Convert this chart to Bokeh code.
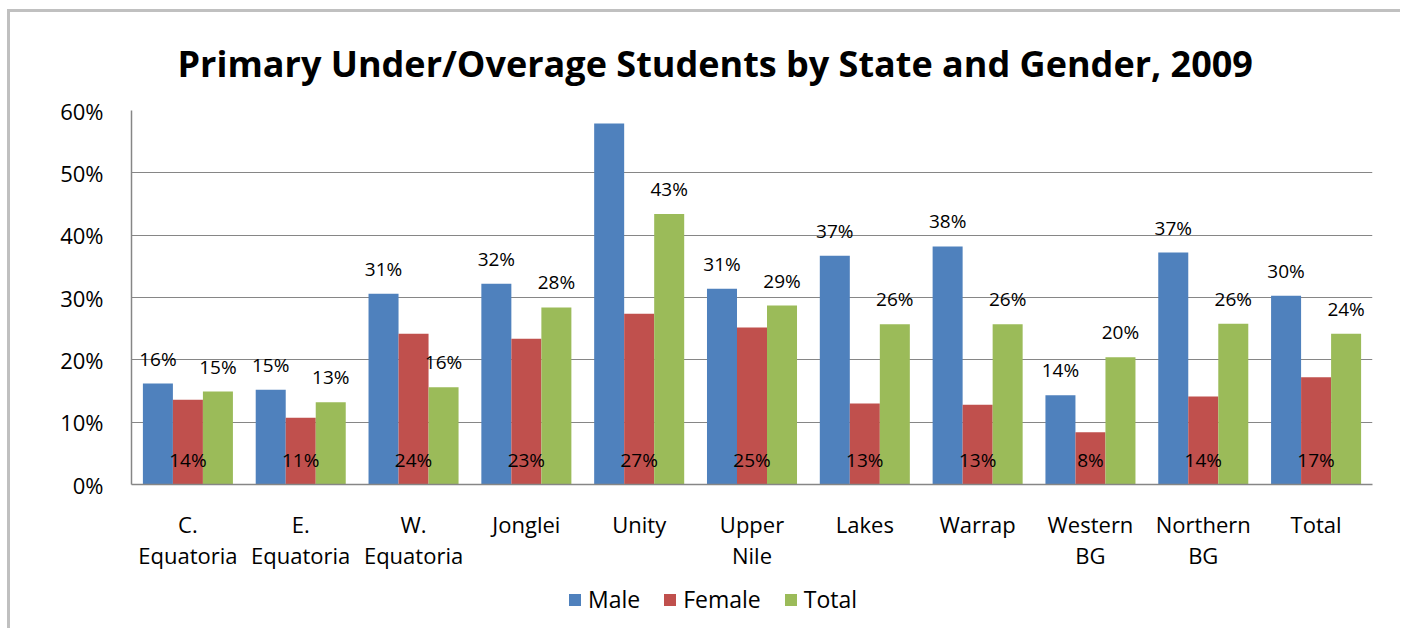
from bokeh.plotting import figure
from bokeh.layouts import column
from bokeh.models import (ColumnDataSource, FactorRange, NumeralTickFormatter,
                          FixedTicker, Legend, LegendItem)
from bokeh.transform import dodge
from bokeh.core.properties import value
from bokeh.embed import file_html
from bokeh.resources import INLINE

states = ["C.\nEquatoria", "E.\nEquatoria", "W.\nEquatoria", "Jonglei", "Unity",
          "Upper\nNile", "Lakes", "Warrap", "Western\nBG", "Northern\nBG", "Total"]
male = [0.162, 0.152, 0.306, 0.322, 0.579, 0.314, 0.367, 0.382, 0.143, 0.372, 0.303]
female = [0.136, 0.107, 0.242, 0.234, 0.274, 0.252, 0.130, 0.128, 0.084, 0.141, 0.172]
total = [0.149, 0.132, 0.156, 0.284, 0.434, 0.287, 0.257, 0.257, 0.204, 0.258, 0.242]
series_names = ["Male", "Female", "Total"]
colors = ["#4F81BD", "#C0504D", "#9BBB59"]
y_ticks = [0, 0.1, 0.2, 0.3, 0.4, 0.5, 0.6]

FONT = "Open Sans"

def fmt(vals):
    return [f"{v * 100:.0f}%" for v in vals]

src = ColumnDataSource(data=dict(
    state=states, male=male, female=female, total=total,
    male_lbl=fmt(male), female_lbl=fmt(female), total_lbl=fmt(total),
    female_lbl_y=[0.04] * len(states),
))

W = 1390
p = figure(x_range=FactorRange(*states), y_range=(0, 0.6),
           width=W, height=566, output_backend="svg", toolbar_location=None,
           min_border_left=121, min_border_right=28, min_border_top=98,
           min_border_bottom=94)
p.x_range.range_padding = 0

p.title.text = "Primary Under/Overage Students by State and Gender, 2009"
p.title.text_font = FONT
p.title.text_font_size = "36px"
p.title.text_font_style = "bold"
p.title.align = "left"
p.title.offset = 46
p.title.vertical_align = "top"
p.title.standoff = 42
p.title.text_color = "#000000"

bw = 0.266
offs = [-bw, 0.0, bw]
cols = ["male", "female", "total"]
for col, off, c in zip(cols, offs, colors):
    p.vbar(x=dodge("state", off, range=p.x_range), top=col, width=bw,
           source=src, fill_color=c, line_color=None)

# data labels
for col, off in [("male", -bw), ("total", bw)]:
    p.text(x=dodge("state", off, range=p.x_range), y=col, text=col + "_lbl",
           source=src, text_align="center", text_baseline="middle",
           y_offset=-25, text_font=value(FONT), text_font_size="19px",
           text_color="#000000")
p.text(x=dodge("state", 0.0, range=p.x_range), y="female_lbl_y", text="female_lbl",
       source=src, text_align="center", text_baseline="middle",
       text_font=value(FONT), text_font_size="19px", text_color="#000000")

# axes
p.yaxis.ticker = FixedTicker(ticks=y_ticks)
p.yaxis.formatter = NumeralTickFormatter(format="0%")
p.yaxis.major_label_text_font = FONT
p.yaxis.major_label_text_font_size = "22px"
p.yaxis.major_label_text_color = "#000000"
p.yaxis.major_tick_line_color = None
p.yaxis.minor_tick_line_color = None
p.yaxis.axis_line_color = "#868686"
p.yaxis.axis_line_width = 1.5
p.yaxis.major_label_standoff = 22

p.xaxis.major_label_text_font = FONT
p.xaxis.major_label_text_font_size = "22px"
p.xaxis.major_label_text_line_height = 1.05
p.xaxis.major_label_text_color = "#000000"
p.xaxis.major_tick_line_color = None
p.xaxis.axis_line_color = "#868686"
p.xaxis.axis_line_width = 1.5
p.xaxis.major_label_standoff = 18

p.xgrid.grid_line_color = None
p.ygrid.grid_line_color = "#868686"
p.ygrid.grid_line_width = 1
p.outline_line_color = None

# legend strip (its own small figure so that the legend is not clipped)
LH = 50
lf = figure(x_range=FactorRange(*states), y_range=(10, 11), width=W, height=LH,
            output_backend="svg", toolbar_location=None, min_border=0)
lf.axis.visible = False
lf.grid.grid_line_color = None
lf.outline_line_color = None
leg_renderers = []
for col, off, c in zip(cols, offs, colors):
    leg_renderers.append(lf.vbar(x=dodge("state", off, range=lf.x_range), top=col,
                                 width=bw, source=src, fill_color=c, line_color=None))
legend = Legend(items=[LegendItem(label=n, renderers=[r])
                       for n, r in zip(series_names, leg_renderers)],
                orientation="horizontal", location=(436, 13),
                label_text_font=FONT, label_text_font_size="23px",
                label_text_color="#000000",
                glyph_width=15, glyph_height=15, spacing=22, label_standoff=6,
                border_line_color=None, background_fill_alpha=0, margin=0, padding=0)
lf.add_layout(legend)

layout = column(p, lf, spacing=0, margin=(9, 0, 0, 7),
                styles={"border-top": "3px solid #C0C0C0",
                        "border-left": "3px solid #C0C0C0"})

open("out.html", "w").write(file_html(layout, INLINE))
